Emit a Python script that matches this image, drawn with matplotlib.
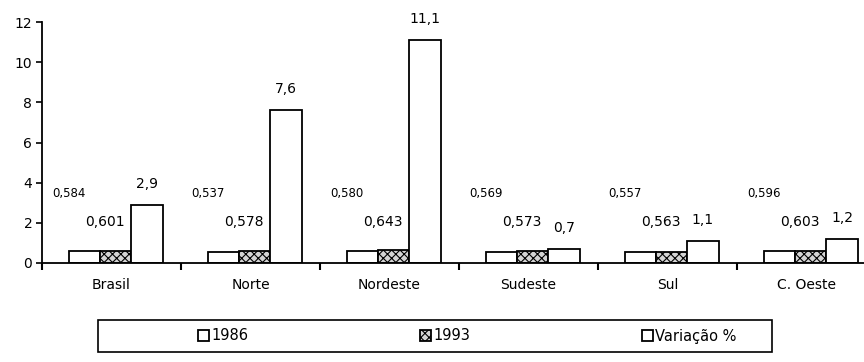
import numpy as np
import matplotlib
matplotlib.use("Agg")
import matplotlib.pyplot as plt
from matplotlib.patches import Rectangle

# IDH por região e variação percentual
regioes = ["Brasil", "Norte", "Nordeste", "Sudeste", "Sul", "C. Oeste"]
idh_1986 = [0.584, 0.537, 0.580, 0.569, 0.557, 0.596]
idh_1993 = [0.601, 0.578, 0.643, 0.573, 0.563, 0.603]
variacao = [2.9, 7.6, 11.1, 0.7, 1.1, 1.2]

def br(v, casas):
    return f"{v:.{casas}f}".replace(".", ",")

plt.rcParams["font.family"] = ["DejaVu Sans"]
plt.rcParams["hatch.color"] = "#777777"
plt.rcParams["hatch.linewidth"] = 0.8

fig = plt.figure(figsize=(8.64, 3.62), dpi=100)
ax = fig.add_axes([42 / 864, 1 - 263 / 362, 834 / 864, 241 / 362])

x = np.arange(len(regioes)) + 0.03
w = 0.225

b1 = ax.bar(x - w, idh_1986, w, color="white", edgecolor="black", linewidth=1.3, label="1986")
b2 = ax.bar(x, idh_1993, w, color="#d4d4d4", edgecolor="black", linewidth=1.3,
            hatch="xxxx", label="1993")
b3 = ax.bar(x + w, variacao, w, color="white", edgecolor="black", linewidth=1.3,
            label="Variação %")

# rótulos de valor
for i in range(len(regioes)):
    ax.text(x[i] - w - 0.11, 3.45, br(idh_1986[i], 3), ha="center", va="center", fontsize=8.5)
    ax.text(x[i] - 0.08, 2.05, br(idh_1993[i], 3), ha="center", va="center", fontsize=10)
    ax.text(x[i] + w, variacao[i] + 1.05, br(variacao[i], 1), ha="center", va="center", fontsize=10)

ax.set_xlim(-0.5, len(regioes) - 0.5)
ax.set_ylim(0, 12)
ax.set_yticks(range(0, 13, 2))
ax.tick_params(axis="y", labelsize=10, length=4, width=1.2, direction="out", pad=3)

ax.set_xticks(np.arange(len(regioes)))
ax.set_xticklabels(regioes, fontsize=10)
ax.set_xticks(np.arange(-0.5, len(regioes), 1), minor=True)
ax.tick_params(axis="x", which="major", length=0, pad=11)
ax.tick_params(axis="x", which="minor", length=5, width=1.5, direction="out")

for s in ["top", "right"]:
    ax.spines[s].set_visible(False)
ax.spines["left"].set_linewidth(1.3)
ax.spines["bottom"].set_linewidth(1.3)

# legenda em caixa abaixo do gráfico
fig.patches.append(Rectangle((98 / 864, 1 - 352 / 362), 674 / 864, 32 / 362,
                             transform=fig.transFigure, fill=False,
                             edgecolor="black", linewidth=1.2))
leg = fig.legend(handles=[b1, b2, b3], loc="center left",
                 bbox_to_anchor=(198 / 864, 1 - 336 / 362), ncol=3, frameon=False,
                 prop={"size": 10.5},
                 handlelength=0.75, handleheight=0.75, handletextpad=0.15,
                 columnspacing=11.8, borderpad=0, borderaxespad=0)

fig.savefig("out.png", dpi=100)
